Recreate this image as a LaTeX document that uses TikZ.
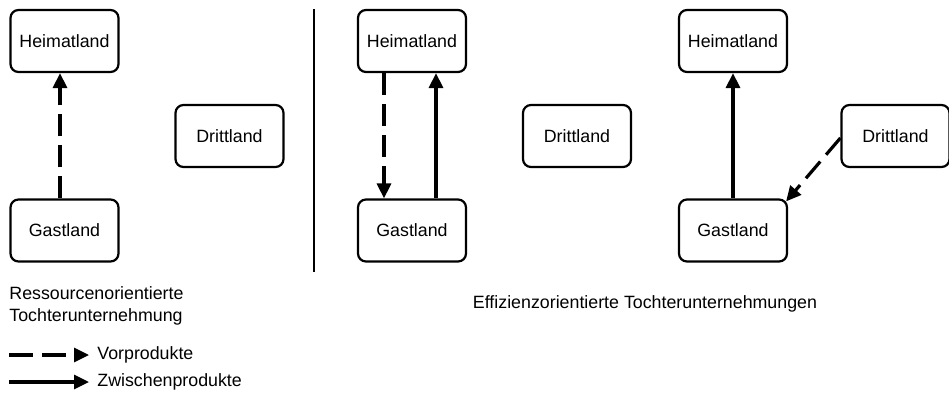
\documentclass[tikz,border=0pt]{standalone}
\usepackage{fontspec}
\setmainfont{Liberation Sans}
\usetikzlibrary{arrows.meta}
\begin{document}
\begin{tikzpicture}[x=0.5pt,y=-0.5pt,
  font=\fontsize{8.9}{11}\selectfont,
  land/.style={draw, rounded corners=4pt, line width=1.1pt,
    minimum width=54pt, minimum height=31pt, inner sep=0pt},
  flow/.style={line width=1.6pt, -{Triangle[length=7.5pt,width=7pt]}},
  vor/.style={flow, dash pattern=on 11pt off 4.5pt},
  zwi/.style={flow},
  caption/.style={inner sep=0pt}]
\useasboundingbox (0,0) rectangle (949,398);

% resource-oriented subsidiary
\node[land] (h1) at (64.5,41) {Heimatland};
\node[land] (d1) at (229.5,136) {Drittland};
\node[land] (g1) at (64.5,230.5) {Gastland};
\draw[vor] ([xshift=-2.25pt]g1.north) -- ([xshift=-2.25pt]h1.south);

% divider
\coordinate (divtop) at (314,9);
\coordinate (divbot) at (314,272);
\draw[line width=0.9pt] (divtop) -- (divbot);

% efficiency-oriented subsidiaries, first variant
\node[land] (h2) at (412,41) {Heimatland};
\node[land] (d2) at (577,136) {Drittland};
\node[land] (g2) at (412,230.5) {Gastland};
\draw[vor] ([xshift=-14pt]h2.south) -- ([xshift=-14pt]g2.north);
\draw[zwi] ([xshift=12pt]g2.north) -- ([xshift=12pt]h2.south);

% efficiency-oriented subsidiaries, second variant
\node[land] (h3) at (733,41) {Heimatland};
\node[land] (d3) at (895.5,136) {Drittland};
\node[land] (g3) at (733,230.5) {Gastland};
\draw[zwi] (g3.north) -- (h3.south);
\draw[vor] ([yshift=-1pt]d3.west) -- ([xshift=-1pt,yshift=-1.5pt]g3.north east);

% captions
\node[caption, anchor=west, align=left] (c1) at (9,306)
  {Ressourcenorientierte\\Tochterunternehmung};
\node[caption] (c2) at (645,304) {Effizienzorientierte Tochterunternehmungen};

% legend
\node[caption, anchor=west] (lv) at (97,355) {Vorprodukte};
\node[caption, anchor=west] (lz) at (97,382) {Zwischenprodukte};
\coordinate (lv0) at (9,355);
\coordinate (lz0) at (9,382);
\draw[vor, dash pattern=on 12pt off 4.5pt] (lv0) -- ([xshift=-4pt]lv.west);
\draw[zwi] (lz0) -- ([xshift=-4pt]lz.west);
\end{tikzpicture}
\end{document}
